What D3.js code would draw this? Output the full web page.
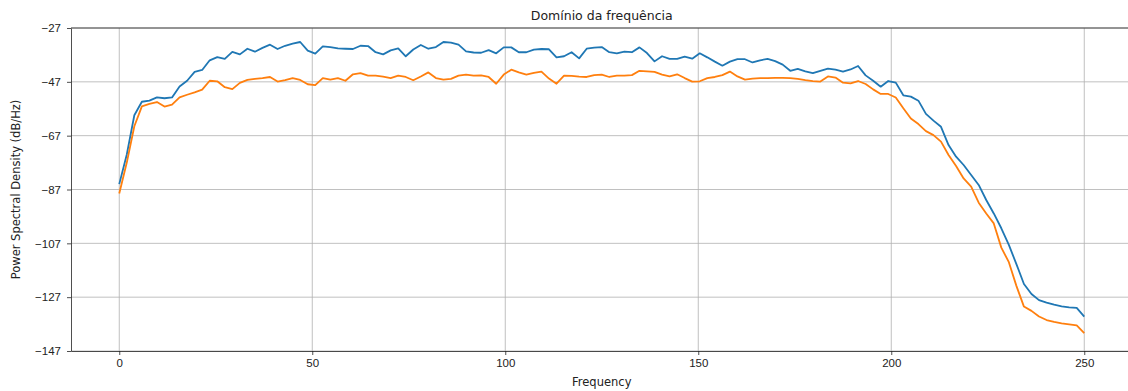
<!DOCTYPE html>
<html lang="pt">
<head>
<meta charset="utf-8">
<script src="https://d3js.org/d3.v7.min.js"></script>
<style>
  body { margin:0; background:#fff; }
  svg { display:block; font-family:"DejaVu Sans", sans-serif; }
  .grid line { stroke:#b0b0b0; stroke-width:0.8; }
  .axis text { font-size:11.5px; fill:#222; }
  .axis path, .axis line { stroke:#222; stroke-width:0.8; }
</style>
<title>Domínio da frequência</title>
</head>
<body>
<script>

// frequency bins of the psd (0..250 Hz, 129 bins)
const freqs = d3.range(129).map(i => i * 250 / 128);

const psdBlue = [
  -85, -74, -59.4, -54.4, -54, -52.8, -53.1, -52.8, -48.7, -46.6,
  -43.3, -42.6, -39, -37.8, -38.5, -35.9, -36.8, -34.7, -35.8, -34.4,
  -33.2, -34.8, -33.6, -32.8, -32.2, -35.4, -36.5, -33.8, -34.1, -34.6,
  -34.7, -34.8, -33.6, -33.7, -36, -36.8, -35.3, -34.6, -37.5, -35.0,
  -33.3, -34.7, -34.1, -32.2, -32.4, -33.2, -35.7, -36.1, -36.2, -35.2,
  -36.4, -34.2, -34.2, -36, -36, -35, -34.8, -34.9, -37.9, -37.5,
  -36, -38.3, -34.7, -34.3, -34.1, -36, -36.4, -35.8, -36, -34.2,
  -36.3, -39.4, -37.5, -38.5, -38.5, -37.6, -38.4, -36.4, -37.9, -39.5,
  -41, -39.5, -38.6, -38.6, -39.8, -39, -38.5, -39.3, -40.6, -42.9,
  -42.2, -43.1, -43.8, -42.9, -42.1, -42.5, -43.2, -42.4, -41.1, -44.6,
  -46.6, -48.8, -46.7, -47.3, -52, -52.5, -54, -58.9, -61.4, -63.7,
  -70.5, -74.8, -77.9, -81.6, -85.3, -90.9, -95.9, -101.4, -107.6, -114.7,
  -122.1, -125.8, -128.1, -129.0, -129.8, -130.4, -130.8, -131, -134.2
];

const psdOrange = [
  -88.5, -77, -63.5, -56.1, -55.2, -54.5, -56.2, -55.5, -52.8, -51.8,
  -50.9, -49.9, -46.6, -46.8, -49, -49.7, -47.4, -46.3, -45.9, -45.6,
  -45.2, -46.9, -46.4, -45.6, -46.3, -47.9, -48.2, -45.6, -46.2, -45.6,
  -46.6, -44.2, -43.8, -44.7, -44.7, -45.1, -45.6, -44.7, -45.2, -46.4,
  -45, -43.5, -45.6, -46.2, -45.9, -44.7, -44.3, -44.7, -44.6, -45.2,
  -47.7, -44.3, -42.5, -43.5, -44.3, -43.7, -43.2, -45.8, -47.7, -44.7,
  -44.8, -45.1, -45.2, -44.5, -44.3, -45.2, -44.7, -44.7, -44.5, -42.9,
  -43.1, -43.3, -44.3, -45, -44.2, -45.6, -46.9, -46.8, -45.6, -45.2,
  -44.5, -43.2, -45, -46.2, -45.8, -45.6, -45.6, -45.5, -45.5, -45.6,
  -45.9, -46.4, -46.7, -46.9, -45, -45.4, -47.3, -47.6, -46.7, -47.8,
  -49.8, -51.5, -51.5, -52.8, -56.8, -60.6, -62.7, -65.3, -66.8, -69.2,
  -74.2, -78.3, -82.9, -85.9, -91.9, -95.9, -99.6, -108.6, -114, -122.8,
  -130.5, -132.1, -134.2, -135.5, -136.2, -136.7, -137.1, -137.5, -140.4
];

const xTicks = [0, 50, 100, 150, 200, 250];
const yTicks = [-27, -47, -67, -87, -107, -127, -147];

const width = 1128, height = 391;
const margin = {left:71, top:28};
const plotW = 1061.5, plotH = 323;

const svg = d3.select("body").append("svg")
    .attr("width", width)
    .attr("height", height);

const g = svg.append("g")
    .attr("transform", `translate(${margin.left},${margin.top})`);

const x = d3.scaleLinear().domain([-12.5, 262.5]).range([0, plotW]);
const y = d3.scaleLinear().domain([-147, -27]).range([plotH, 0]);

const fmt = d => String(d).replace("-", "\u2212");

// grid
g.append("g").attr("class", "grid")
  .selectAll("line").data(xTicks).join("line")
    .attr("x1", d => x(d)).attr("x2", d => x(d))
    .attr("y1", 0).attr("y2", plotH);
g.append("g").attr("class", "grid")
  .selectAll("line").data(yTicks).join("line")
    .attr("x1", 0).attr("x2", plotW)
    .attr("y1", d => y(d)).attr("y2", d => y(d));

// lines
const line = d3.line().x((d, i) => x(freqs[i])).y(d => y(d));
[[psdBlue, "#1f77b4"], [psdOrange, "#ff7f0e"]].forEach(([data, c]) => {
  g.append("path")
    .datum(data)
    .attr("fill", "none")
    .attr("stroke", c)
    .attr("stroke-width", 1.8)
    .attr("stroke-linejoin", "round")
    .attr("d", line);
});

// axes
g.append("g").attr("class", "axis")
  .attr("transform", `translate(0,${plotH})`)
  .call(d3.axisBottom(x).tickValues(xTicks).tickSize(4).tickSizeOuter(0).tickPadding(4).tickFormat(fmt));
g.append("g").attr("class", "axis")
  .call(d3.axisLeft(y).tickValues(yTicks).tickSize(4).tickSizeOuter(0).tickPadding(6).tickFormat(fmt));

// top spine (right one falls outside the picture)
g.append("line").attr("x1", 0).attr("x2", plotW).attr("y1", 0).attr("y2", 0)
  .attr("stroke", "#222").attr("stroke-width", 0.8);

// labels
svg.append("text")
  .attr("x", margin.left + plotW / 2).attr("y", 20)
  .attr("text-anchor", "middle")
  .style("font-size", "12.5px").style("fill", "#222")
  .text("Domínio da frequência");

svg.append("text")
  .attr("x", margin.left + plotW / 2).attr("y", 386)
  .attr("text-anchor", "middle")
  .style("font-size", "11.5px").style("fill", "#222")
  .text("Frequency");

svg.append("text")
  .attr("transform", `translate(20,${margin.top + plotH / 2}) rotate(-90)`)
  .attr("text-anchor", "middle")
  .style("font-size", "11.5px").style("fill", "#222")
  .text("Power Spectral Density (dB/Hz)");

</script>
</body>
</html>
